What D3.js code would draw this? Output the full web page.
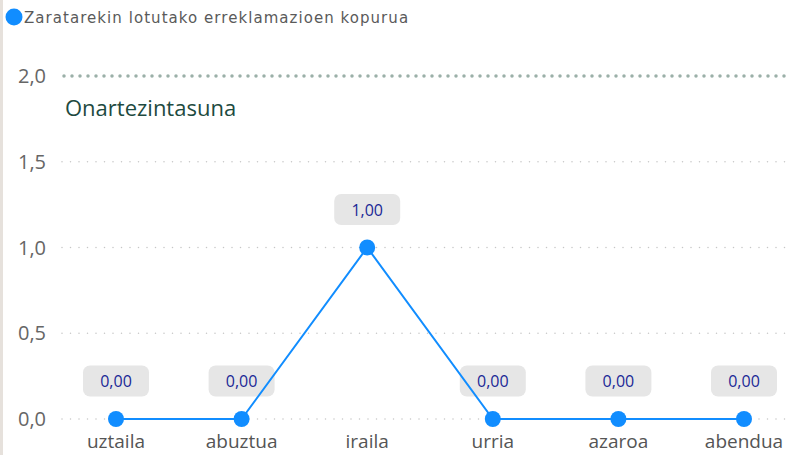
<!DOCTYPE html>
<html>
<head>
<meta charset="utf-8">
<script src="https://cdn.jsdelivr.net/npm/d3@7"></script>
<style>
  body { margin: 0; background: #fff; }
  svg { display: block; }
</style>
</head>
<body>
<script>
  // Months and values
  let months = ['uztaila', 'abuztua', 'iraila', 'urria', 'azaroa', 'abendua'];
  let values = [0, 0, 1, 0, 0, 0];
  let yTicks = [0, 0.5, 1, 1.5, 2];
  let seriesName = 'Zaratarekin lotutako erreklamazioen kopurua';
  let refValue = 2;
  let refLabel = 'Onartezintasuna';

  let width = 790, height = 455;
  let blue = '#118DFF';

  let svg = d3.select('body').append('svg')
      .attr('width', width)
      .attr('height', height);

  // beige strip on the left edge
  svg.append('rect').attr('x', 0).attr('y', 0).attr('width', 3).attr('height', height).attr('fill', '#e6e1dc');

  let x = d3.scalePoint().domain(months).range([116, 744]);
  let y = d3.scaleLinear().domain([0, 2]).range([419, 76]);
  let fmt = d => d3.format('.1f')(d).replace('.', ',');
  let fmt2 = d => d3.format('.2f')(d).replace('.', ',');

  // gridlines
  svg.append('g').selectAll('line').data(yTicks.filter(t => t !== refValue)).enter()
    .append('line')
    .attr('x1', 62).attr('x2', width)
    .attr('y1', d => y(d)).attr('y2', d => y(d))
    .attr('stroke', '#c6c6c6')
    .attr('stroke-width', 1.5)
    .attr('stroke-linecap', 'round')
    .attr('stroke-dasharray', '0,8.5');

  // y tick labels
  svg.append('g').selectAll('text').data(yTicks).enter()
    .append('text')
    .attr('x', 46).attr('y', d => y(d) + 7)
    .attr('text-anchor', 'end')
    .attr('font-family', 'Open Sans, sans-serif')
    .attr('font-size', 20)
    .attr('fill', '#666')
    .text(fmt);

  // reference line
  svg.append('line')
    .attr('x1', 64).attr('x2', width)
    .attr('y1', y(refValue)).attr('y2', y(refValue))
    .attr('stroke', '#9bb0a8')
    .attr('stroke-width', 3.5)
    .attr('stroke-linecap', 'round')
    .attr('stroke-dasharray', '0,8');
  svg.append('text')
    .attr('x', 65).attr('y', y(refValue) + 40)
    .attr('font-family', 'Open Sans, sans-serif')
    .attr('font-size', 22)
    .attr('fill', '#1d4a40')
    .text(refLabel);

  // x labels
  svg.append('g').selectAll('text').data(months).enter()
    .append('text')
    .attr('x', d => x(d)).attr('y', 448)
    .attr('text-anchor', 'middle')
    .attr('font-family', 'Open Sans, sans-serif')
    .attr('font-size', 19)
    .attr('fill', '#555')
    .text(d => d);

  // data labels (under the line)
  let labels = svg.append('g').selectAll('g').data(values).enter()
    .append('g')
    .attr('transform', (d, i) => 'translate(' + x(months[i]) + ',' + (y(d) - 38) + ')');
  labels.append('rect')
    .attr('x', -33).attr('y', -15.5)
    .attr('width', 66).attr('height', 31)
    .attr('rx', 7)
    .attr('fill', '#e6e6e6');
  labels.append('text')
    .attr('y', 6)
    .attr('text-anchor', 'middle')
    .attr('font-family', 'Open Sans, sans-serif')
    .attr('font-size', 16)
    .attr('fill', '#1a2896')
    .text(fmt2);

  // line
  let line = d3.line().x((d, i) => x(months[i])).y(d => y(d));
  svg.append('path').datum(values)
    .attr('d', line)
    .attr('fill', 'none')
    .attr('stroke', blue)
    .attr('stroke-width', 2);

  svg.append('g').selectAll('circle').data(values).enter()
    .append('circle')
    .attr('cx', (d, i) => x(months[i]))
    .attr('cy', d => y(d))
    .attr('r', 8)
    .attr('fill', blue);

  // legend
  svg.append('circle').attr('cx', 14).attr('cy', 17).attr('r', 8.5).attr('fill', blue);
  svg.append('text')
    .attr('x', 24).attr('y', 23)
    .attr('font-family', 'DejaVu Sans, sans-serif')
    .attr('font-size', 15)
    .attr('letter-spacing', 1.05)
    .attr('fill', '#5a5a5a')
    .text(seriesName);
</script>
</body>
</html>
